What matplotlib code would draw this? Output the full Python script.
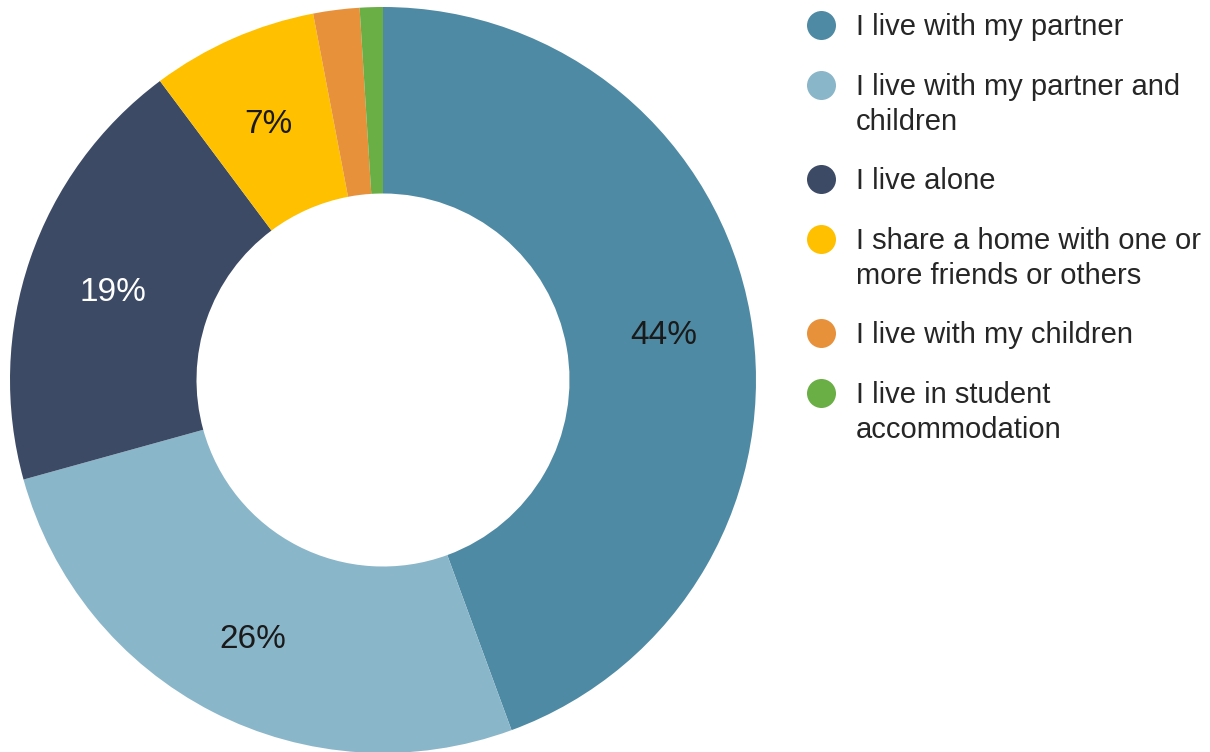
import math
import matplotlib
matplotlib.use("Agg")
import matplotlib.pyplot as plt

plt.rcParams["font.family"] = ["Liberation Sans", "DejaVu Sans"]

# living arrangements, share of respondents (%)
categories = [
    "I live with my partner",
    "I live with my partner and\nchildren",
    "I live alone",
    "I share a home with one or\nmore friends or others",
    "I live with my children",
    "I live in student\naccommodation",
]
shares = [44.4, 26.3, 19.1, 7.2, 2.0, 1.0]
colors = ["#4E8AA4", "#8AB6C9", "#3C4A65", "#FFC000", "#E8913B", "#6AAE46"]
label_colors = ["#1a1a1a", "#1a1a1a", "white", "#1a1a1a", None, None]

W, H = 1210, 752
fig = plt.figure(figsize=(W / 100, H / 100), dpi=100)

# donut: centre (383, 380) px, outer radius 373 px
cx, cy, r = 383, 380, 373
ax = fig.add_axes([(cx - r) / W, (H - cy - r) / H, 2 * r / W, 2 * r / H])
wedges, _ = ax.pie(shares, colors=colors, startangle=90, counterclock=False,
                   radius=1.0, wedgeprops=dict(width=0.5, linewidth=0))
ax.set_xlim(-1, 1); ax.set_ylim(-1, 1); ax.set_aspect("equal"); ax.axis("off")

start = 90.0
for val, lc in zip(shares, label_colors):
    mid = start - val * 3.6 / 2
    start -= val * 3.6
    if lc is None:
        continue
    rr = 0.765
    ax.text(rr * math.cos(math.radians(mid)), rr * math.sin(math.radians(mid)) - 0.014,
            f"{round(val)}%", ha="center", va="center", fontsize=24, color=lc)

# legend on a pixel-space overlay
lg = fig.add_axes([0, 0, 1, 1], facecolor="none")
lg.set_xlim(0, W); lg.set_ylim(H, 0); lg.axis("off")
y = 25
for cat, col in zip(categories, colors):
    lg.scatter([821], [y], s=29 ** 2 * 0.5184, color=col, linewidths=0)
    lines = cat.split("\n")
    for i, line in enumerate(lines):
        lg.text(856, y + 35 * i + 2, line, ha="left", va="center",
                fontsize=21, color="#262626")
    y += 60 + 34 * (len(lines) - 1)

fig.savefig("out.png", dpi=100, facecolor="white")
